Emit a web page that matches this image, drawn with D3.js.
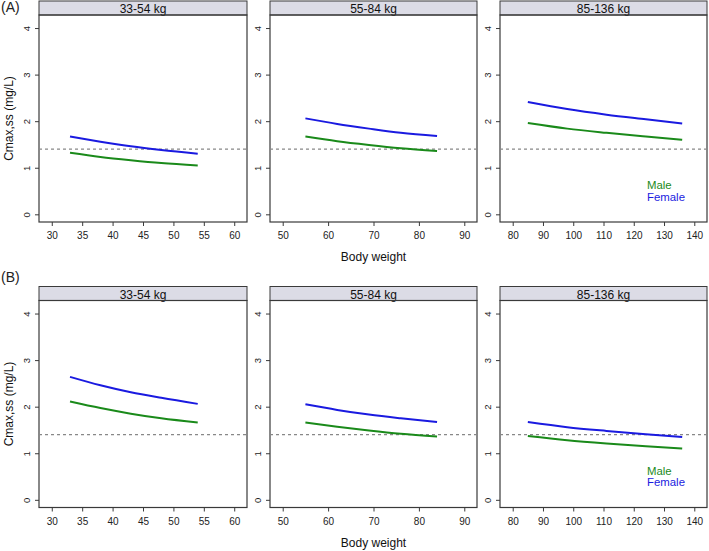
<!DOCTYPE html>
<html><head><meta charset="utf-8">
<script src="https://cdn.jsdelivr.net/npm/d3@7"></script>
<style>body{margin:0;background:#fff}svg{display:block;font-family:"Liberation Sans",Arial,sans-serif}</style>
</head><body><svg id="c" width="709" height="551"></svg>
<script>
// ---- data ----
const rowLabels = ["(A)", "(B)"];
const panelTitles = ["33-54 kg", "55-84 kg", "85-136 kg"];
const xDomains = [[27.9, 62.1], [47.2, 92.8], [75.8, 144.2]];
const xTicks = [[30, 35, 40, 45, 50, 55, 60], [50, 60, 70, 80, 90], [80, 90, 100, 110, 120, 130, 140]];
const yTicks = [0, 1, 2, 3, 4];
const threshold = 1.4;
const weights = [[33, 38, 43, 48, 54], [55, 62, 69, 76, 84], [85, 98, 111, 124, 136]];
// row A
const maleA = [[1.32, 1.23, 1.16, 1.10, 1.05], [1.67, 1.57, 1.49, 1.42, 1.36], [1.96, 1.84, 1.75, 1.67, 1.60]];
const femaleA = [[1.67, 1.56, 1.46, 1.38, 1.30], [2.06, 1.94, 1.84, 1.75, 1.68], [2.41, 2.26, 2.14, 2.04, 1.95]];
// row B
const maleB = [[2.11, 1.97, 1.85, 1.75, 1.66], [1.66, 1.57, 1.49, 1.42, 1.36], [1.37, 1.28, 1.21, 1.15, 1.10]];
const femaleB = [[2.64, 2.46, 2.31, 2.19, 2.06], [2.05, 1.93, 1.83, 1.75, 1.67], [1.67, 1.56, 1.48, 1.41, 1.35]];
const seriesNames = ["Male", "Female"];
const seriesColors = ["#1a8a1a", "#1a1ae0"];

// ---- layout ----
const svg = d3.select("#c");
const panelX = [[39, 247], [270, 477], [500, 707]];
const rows = [{stripTop: 1, top: 15, bottom: 222, male: maleA, female: femaleA, labelY: 12},
              {stripTop: 286.5, top: 300.5, bottom: 507.5, male: maleB, female: femaleB, labelY: 282}];
const yDomain = [-0.165, 4.28];
const border = "#3a3a3a";

rows.forEach((row, ri) => {
  svg.append("text").attr("x", 1).attr("y", row.labelY).attr("font-size", 14).attr("fill", "#222").text(rowLabels[ri]);
  const y = d3.scaleLinear().domain(yDomain).range([row.bottom, row.top]);
  panelX.forEach((px, pi) => {
    const x = d3.scaleLinear().domain(xDomains[pi]).range(px);
    const g = svg.append("g");
    // strip
    g.append("rect").attr("x", px[0]).attr("y", row.stripTop).attr("width", px[1] - px[0]).attr("height", row.top - row.stripTop)
      .attr("fill", "#dcdce6").attr("stroke", border).attr("stroke-width", 1);
    g.append("text").attr("x", (px[0] + px[1]) / 2).attr("y", row.top - 2).attr("text-anchor", "middle")
      .attr("font-size", 12).attr("fill", "#111").text(panelTitles[pi]);
    // plot box
    g.append("rect").attr("x", px[0]).attr("y", row.top).attr("width", px[1] - px[0]).attr("height", row.bottom - row.top)
      .attr("fill", "none").attr("stroke", border).attr("stroke-width", 1.2);
    // y axis
    const ya = g.append("g").attr("transform", `translate(${px[0]},0)`)
      .call(d3.axisLeft(y).tickValues(yTicks).tickSize(4).tickPadding(3).tickFormat(d3.format("d")));
    ya.select(".domain").remove();
    ya.selectAll("line").attr("stroke", border);
    ya.selectAll("text").attr("font-size", 9.5).attr("fill", "#222").attr("font-family", "Liberation Sans, Arial, sans-serif")
      .attr("text-anchor", "middle").attr("x", null).attr("dy", null)
      .attr("transform", "translate(-13,0) rotate(-90)").attr("y", 3.5);
    // x axis
    const xa = g.append("g").attr("transform", `translate(0,${row.bottom})`)
      .call(d3.axisBottom(x).tickValues(xTicks[pi]).tickSize(4).tickPadding(6).tickFormat(d3.format("d")));
    xa.select(".domain").remove();
    xa.selectAll("line").attr("stroke", border);
    xa.selectAll("text").attr("font-size", 10).attr("fill", "#222").attr("font-family", "Liberation Sans, Arial, sans-serif");
    // threshold
    g.append("line").attr("x1", px[0]).attr("x2", px[1]).attr("y1", y(threshold)).attr("y2", y(threshold))
      .attr("stroke", "#888").attr("stroke-width", 1.3).attr("stroke-dasharray", "3,3");
    // curves
    const line = d3.line().x((d, i) => x(weights[pi][i])).y(d => y(d)).curve(d3.curveMonotoneX);
    [row.male[pi], row.female[pi]].forEach((vals, si) => {
      g.append("path").attr("d", line(vals)).attr("fill", "none").attr("stroke", seriesColors[si]).attr("stroke-width", 2);
    });
    if (pi === 2) {
      const ly = row.top + 174;
      seriesNames.forEach((n, si) => {
        g.append("text").attr("x", 647).attr("y", ly + si * 11.6).attr("font-size", 11.4).attr("fill", seriesColors[si]).text(n);
      });
    }
  });
  // y title
  svg.append("text").attr("transform", `translate(13,${(row.top + row.bottom) / 2}) rotate(-90)`).attr("text-anchor", "middle")
    .attr("font-size", 12).attr("fill", "#111").text("Cmax,ss (mg/L)");
  // x title
  svg.append("text").attr("x", (panelX[1][0] + panelX[1][1]) / 2).attr("y", row.bottom + 39).attr("text-anchor", "middle")
    .attr("font-size", 12).attr("fill", "#111").text("Body weight");
});
</script></body></html>
